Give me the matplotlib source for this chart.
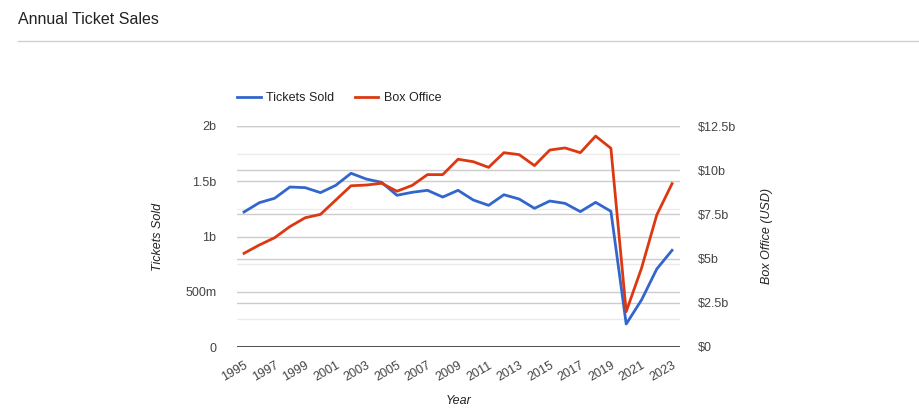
import matplotlib.pyplot as plt
from matplotlib.lines import Line2D
from matplotlib.ticker import MultipleLocator

plt.rcParams['font.family'] = ['Liberation Sans', 'DejaVu Sans']

years = list(range(1995, 2024))
tickets_sold = [1.222, 1.306, 1.346, 1.448, 1.442, 1.397, 1.463, 1.572, 1.520, 1.490,
                1.373, 1.400, 1.418, 1.357, 1.418, 1.330, 1.282, 1.378, 1.339, 1.255,
                1.321, 1.300, 1.225, 1.309, 1.228, 0.208, 0.425, 0.706, 0.875]  # billions
box_office = [5.30, 5.77, 6.18, 6.81, 7.31, 7.50, 8.31, 9.12, 9.16, 9.26,
              8.81, 9.14, 9.75, 9.75, 10.62, 10.48, 10.16, 10.99, 10.88, 10.26,
              11.14, 11.26, 10.99, 11.93, 11.24, 2.00, 4.45, 7.47, 9.24]  # billions USD
left_ticks = [0, 0.5, 1, 1.5, 2]
left_labels = ['0', '500m', '1b', '1.5b', '2b']
right_ticks = [0, 2.5, 5, 7.5, 10, 12.5]
right_labels = ['$0', '$2.5b', '$5b', '$7.5b', '$10b', '$12.5b']

W, H = 920, 409
fig = plt.figure(figsize=(W / 100, H / 100), dpi=100)

# 제목 + 구분선
fig.text(18 / W, 1 - 19 / H, 'Annual Ticket Sales', fontsize=11.5, color='#222222', va='center')
fig.add_artist(Line2D([18 / W, 1], [1 - 40.5 / H, 1 - 40.5 / H], color='#d0d0d0', lw=1))

x0, x1, y_top, y_bot = 237, 680, 126, 347
ax = fig.add_axes([x0 / W, 1 - y_bot / H, (x1 - x0) / W, (y_bot - y_top) / H])
ax2 = ax.twinx()

ax.set_xlim(1994.54, 2023.52)
ax.set_ylim(0, 2)
ax2.set_ylim(0, 12.5)

for a in (ax, ax2):
    for s in a.spines.values():
        s.set_visible(False)
    a.set_axisbelow(True)

ax.yaxis.set_major_locator(plt.FixedLocator(left_ticks))
ax.yaxis.set_major_formatter(plt.FixedFormatter(left_labels))
ax.yaxis.set_minor_locator(MultipleLocator(0.25))
ax.grid(axis='y', which='major', color='#cccccc', lw=1)
ax.grid(axis='y', which='minor', color='#ebebeb', lw=1)
ax.tick_params(axis='y', which='both', length=0, pad=15, labelsize=9, labelcolor='#444444')

ax2.yaxis.set_major_locator(plt.FixedLocator(right_ticks))
ax2.yaxis.set_major_formatter(plt.FixedFormatter(right_labels))
ax2.grid(axis='y', color='#cccccc', lw=1)
ax2.tick_params(axis='y', length=0, pad=13, labelsize=9, labelcolor='#444444')

ax.set_xticks(years[::2])
ax.set_xticklabels([str(y) for y in years[::2]], rotation=30, ha='right',
                   rotation_mode='anchor', fontsize=9, color='#444444')
ax.tick_params(axis='x', length=0, pad=9)

ax2.axhline(0, color='#333333', lw=1.2)

ax2.plot(years, tickets_sold, color='#3366cc', lw=2, transform=ax.transData)
ax2.plot(years, box_office, color='#dc3912', lw=2)

ax.set_ylabel('Tickets Sold', fontsize=9, style='italic', color='#222222', labelpad=15)
ax2.set_ylabel('Box Office (USD)', fontsize=9, style='italic', color='#222222',
               rotation=90, labelpad=18)
ax.set_xlabel('Year', fontsize=9, style='italic', color='#222222', labelpad=8)

handles = [Line2D([], [], color='#3366cc', lw=2), Line2D([], [], color='#dc3912', lw=2)]
fig.legend(handles, ['Tickets Sold', 'Box Office'], loc='center left',
           bbox_to_anchor=(237 / W, 1 - 98 / H), ncol=2, frameon=False, fontsize=9,
           handlelength=1.9, handletextpad=0.45, columnspacing=1.6,
           borderpad=0, borderaxespad=0, labelcolor='#222222')

fig.savefig('out.png', dpi=100)
